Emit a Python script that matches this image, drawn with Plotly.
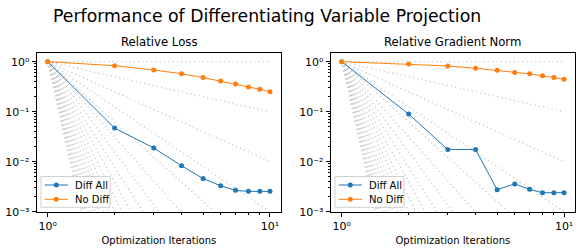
import numpy as np
import plotly.graph_objects as go

iterations = [1, 2, 3, 4, 5, 6, 7, 8, 9, 10]

loss_diff_all = [1.0, 0.047, 0.0188, 0.0083, 0.0046, 0.0033, 0.00267, 0.00255, 0.00255, 0.00255]
loss_no_diff = [1.0, 0.83, 0.68, 0.575, 0.48, 0.41, 0.357, 0.311, 0.28, 0.25]

grad_diff_all = [1.0, 0.0895, 0.0175, 0.0175, 0.00275, 0.0036, 0.0028, 0.0024, 0.0024, 0.0024]
grad_no_diff = [1.0, 0.90, 0.82, 0.736, 0.67, 0.61, 0.57, 0.52, 0.48, 0.445]

ref_powers = list(range(0, 21))

panel_titles = ["Relative Loss", "Relative Gradient Norm"]
series_names = ["Diff All", "No Diff"]
main_title = "Performance of Differentiating Variable Projection"
x_title = "Optimization Iterations"

BLUE = "#1f77b4"
ORANGE = "#ff7f0e"
COLORS = [BLUE, ORANGE]
FONT = "DejaVu Sans"
W, H = 582, 251


def px(x):
    return x / W


def py(y):
    return 1 - y / H


fig = go.Figure()

panels = [
    dict(xd=[px(36.6), px(281.1)], data=(loss_diff_all, loss_no_diff), xa="x", ya="y", lx=41.0),
    dict(xd=[px(330.6), px(575.2)], data=(grad_diff_all, grad_no_diff), xa="x2", ya="y2", lx=335.0),
]

ref_x = np.array([1.0, 10.0])
for p in panels:
    for k in ref_powers:
        fig.add_trace(go.Scatter(
            x=ref_x, y=ref_x ** (-float(k)), mode="lines",
            line=dict(color="#cccccc", width=1.3, dash="1.3px,3px"),
            showlegend=False, hoverinfo="skip", xaxis=p["xa"], yaxis=p["ya"]))
    for name, vals, col in zip(series_names, p["data"], COLORS):
        fig.add_trace(go.Scatter(
            x=iterations, y=vals, mode="lines+markers", name=name,
            line=dict(color=col, width=1),
            marker=dict(color=col, size=5),
            showlegend=False, xaxis=p["xa"], yaxis=p["ya"]))

ydom = [py(211.7), py(53.3)]

xmajor = [1, 10]
xmajor_text = ["10⁰", "10¹"]
xminor = [2, 3, 4, 5, 6, 7, 8, 9]
ymajor = [1e-3, 1e-2, 1e-1, 1]
ymajor_text = ["10⁻³", "10⁻²", "10⁻¹", "10⁰"]
yminor = [m * 10.0 ** e for e in (-3, -2, -1) for m in range(2, 10)]

axis_common = dict(
    type="log", showgrid=False, zeroline=False, showline=True, linecolor="black",
    linewidth=1, mirror=True, ticks="outside", ticklen=4, tickcolor="black",
    tickfont=dict(family=FONT, size=11, color="black"), automargin=False,
)

for i, p in enumerate(panels):
    sfx = "" if i == 0 else "2"
    fig.layout["xaxis" + sfx] = dict(
        axis_common, domain=p["xd"], range=[-0.05, 1.05], anchor="y" + sfx,
        tickmode="array", tickvals=xmajor, ticktext=xmajor_text,
        minor=dict(ticks="outside", ticklen=2, tickcolor="black", tickvals=xminor),
        title=dict(text=x_title, font=dict(family=FONT, size=10, color="black"), standoff=5),
    )
    fig.layout["yaxis" + sfx] = dict(
        axis_common, domain=ydom, range=[-3, 0.167], anchor="x" + sfx,
        tickmode="array", tickvals=ymajor, ticktext=ymajor_text,
        minor=dict(ticks="outside", ticklen=2, tickcolor="black", tickvals=yminor),
    )

# Overlay pixel-space axes (full figure) used only for the compact legend boxes
fig.layout["xaxis3"] = dict(domain=[0, 1], range=[0, W], visible=False, anchor="y3",
                            automargin=False, fixedrange=True)
fig.layout["yaxis3"] = dict(domain=[0, 1], range=[H, 0], visible=False, anchor="x3",
                            automargin=False, fixedrange=True)

annotations = [
    dict(text=main_title, x=px(266.5), y=py(16), xref="paper", yref="paper",
         showarrow=False, font=dict(family=FONT, size=17.3, color="black"),
         xanchor="center", yanchor="middle"),
]
for p, t in zip(panels, panel_titles):
    annotations.append(dict(
        text=t, x=(p["xd"][0] + p["xd"][1]) / 2, y=ydom[1] + 2 / H, xref="paper", yref="paper",
        showarrow=False, font=dict(family=FONT, size=11.7, color="black"),
        xanchor="center", yanchor="bottom"))

box_top, box_bot = 176.5, 207.3
row_y = [185.0, 199.3]
for p in panels:
    x0 = p["lx"]
    x1 = x0 + 69.0
    fig.add_trace(go.Scatter(
        x=[x0, x1, x1, x0, x0], y=[box_top, box_top, box_bot, box_bot, box_top],
        mode="lines", fill="toself", fillcolor="rgba(255,255,255,0.9)",
        line=dict(color="#d0d0d0", width=1), showlegend=False, hoverinfo="skip",
        xaxis="x3", yaxis="y3"))
    for name, col, yy in zip(series_names, COLORS, row_y):
        fig.add_trace(go.Scatter(
            x=[x0 + 3.7, x0 + 27], y=[yy, yy], mode="lines",
            line=dict(color=col, width=1), showlegend=False, hoverinfo="skip",
            xaxis="x3", yaxis="y3"))
        fig.add_trace(go.Scatter(
            x=[x0 + 15.3], y=[yy], mode="markers",
            marker=dict(color=col, size=5), showlegend=False, hoverinfo="skip",
            xaxis="x3", yaxis="y3"))
        annotations.append(dict(
            text=name, x=px(x0 + 32), y=py(yy), xref="paper", yref="paper",
            showarrow=False, font=dict(family=FONT, size=10, color="black"),
            xanchor="left", yanchor="middle"))

fig.update_layout(
    width=W, height=H, margin=dict(l=0, r=0, t=0, b=0),
    paper_bgcolor="white", plot_bgcolor="rgba(0,0,0,0)",
    font=dict(family=FONT, color="black"),
    annotations=annotations, showlegend=False,
)

fig.write_html(
    "out.html",
    config={"displayModeBar": False},
    post_script="document.body.style.margin='0px';document.body.style.overflow='hidden';",
)
